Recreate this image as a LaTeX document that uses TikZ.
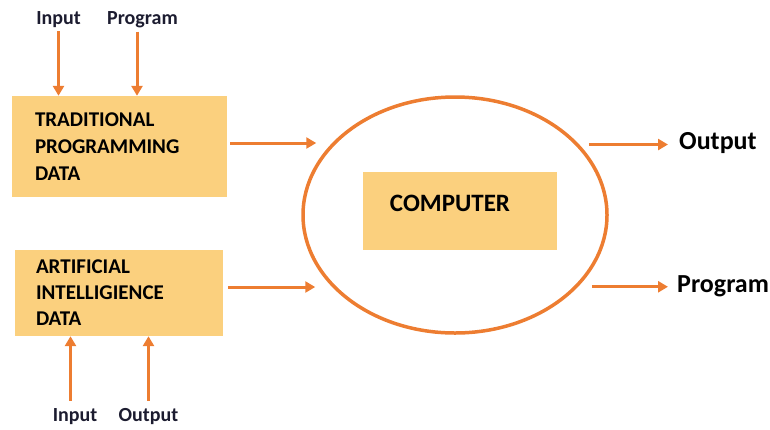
\documentclass[tikz,border=0pt]{standalone}
\usepackage{fontspec}
\setmainfont{Carlito}
\usetikzlibrary{arrows.meta,shapes.geometric}
\definecolor{boxfill}{HTML}{FBD07E}
\definecolor{arrorange}{HTML}{ED7D31}
\definecolor{ink}{HTML}{1C1C30}

\begin{document}
\begin{tikzpicture}[x=1pt,y=-1pt,
  databox/.style={rectangle,fill=boxfill,inner sep=0pt,align=left,font=\fontsize{21}{27}\selectfont\bfseries},
  flow/.style={-{Triangle[length=10pt,width=11pt]},line width=3pt,draw=arrorange},
  lbl/.style={inner sep=0pt,text=ink,font=\fontsize{20}{24}\selectfont\bfseries},
  biglbl/.style={inner sep=0pt,text=black,font=\fontsize{26}{30}\selectfont\bfseries}]
\useasboundingbox (0,0) rectangle (770,429);

\node [databox,minimum width=215pt,minimum height=101pt,text width=169pt] (trad) at (119.5,146.5) {TRADITIONAL\\PROGRAMMING\\DATA};
\node [databox,font=\fontsize{21}{26}\selectfont\bfseries,minimum width=208pt,minimum height=86pt,text width=166pt] (ai) at (119,293) {ARTIFICIAL\\INTELLIGIENCE\\DATA};

\node [ellipse,draw=arrorange,line width=3.5pt,minimum width=304pt,minimum height=236pt,inner sep=0pt] (cpu) at (455,215) {};
\node [rectangle,fill=boxfill,minimum width=194pt,minimum height=78pt] (cbox) at (460,211) {};
\node [biglbl,font=\fontsize{25}{30}\selectfont\bfseries] (ctext) at (450,203) {COMPUTER};

\node [lbl,anchor=base] (inTop) at (58.5,24) {Input};
\node [lbl,anchor=base] (prTop) at (142.5,24) {Program};
\node [lbl,anchor=base] (inBot) at (75,421) {Input};
\node [lbl,anchor=base] (outBot) at (148.5,421) {Output};
\node [biglbl,anchor=base west] (outR) at (679,149) {Output};
\node [biglbl,anchor=base west] (progR) at (677,292) {Program};

% inputs of the two data boxes
\draw [flow] ([yshift=-4pt]inTop.south) -- (inTop.south |- trad.north);
\draw [flow] ([xshift=-5.5pt,yshift=-4pt]prTop.south) -- ([xshift=-5.5pt]prTop.south |- trad.north);
\draw [flow] ([xshift=-4.5pt,yshift=7pt]inBot.north) -- ([xshift=-4.5pt]inBot.north |- ai.south);
\draw [flow] ([yshift=7pt]outBot.north) -- (outBot.north |- ai.south);

% into and out of the computer
\draw [flow] ([xshift=3pt,yshift=3.5pt]trad.east) -- ([xshift=15pt,yshift=3.5pt]cpu.west |- trad.east);
\draw [flow] ([xshift=5pt,yshift=6pt]ai.east) -- ([xshift=14pt,yshift=6pt]cpu.west |- ai.east);
\draw [flow] ([xshift=-20pt,yshift=-2pt]cpu.east |- outR.west) -- ([xshift=-11pt,yshift=-2pt]outR.west);
\draw [flow] ([xshift=-17pt,yshift=-1pt]cpu.east |- progR.west) -- ([xshift=-9pt,yshift=-1pt]progR.west);
\end{tikzpicture}
\end{document}
